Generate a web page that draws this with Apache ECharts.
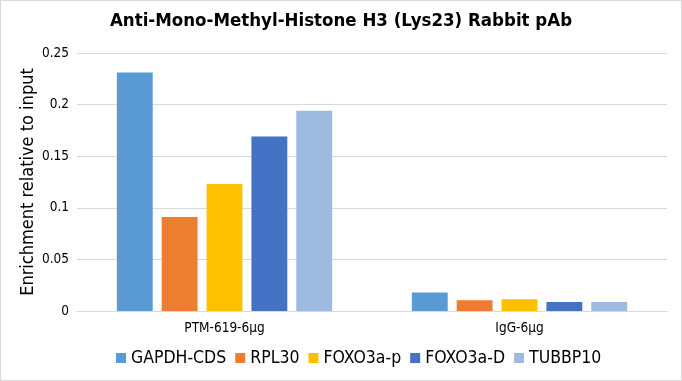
<!DOCTYPE html>
<html><head><meta charset="utf-8">
<script src="https://cdn.jsdelivr.net/npm/echarts@6/dist/echarts.min.js"></script>
<style>html,body{margin:0;padding:0;background:#fff}#c{width:682px;height:381px;box-sizing:border-box;border:1px solid #d9d9d9}</style>
</head><body><div id="c"></div>
<script>
const categories = ['PTM-619-6μg', 'IgG-6μg'];
const seriesNames = ['GAPDH-CDS', 'RPL30', 'FOXO3a-p', 'FOXO3a-D', 'TUBBP10'];
const gapdh = [0.231, 0.018];
const rpl30 = [0.091, 0.0105];
const foxo3ap = [0.123, 0.0115];
const foxo3aD = [0.169, 0.0088];
const tubbp10 = [0.194, 0.0088];
const colors = ['#5B9BD5', '#ED7D31', '#FFC000', '#4472C4', '#9DBBE1'];
const values = [gapdh, rpl30, foxo3ap, foxo3aD, tubbp10];
const font = "'DejaVu Sans Condensed', 'DejaVu Sans', sans-serif";
const chart = echarts.init(document.getElementById('c'));
chart.setOption({
  animation: false,
  title: { text: 'Anti-Mono-Methyl-Histone H3 (Lys23) Rabbit pAb', left: 'center', top: 6,
    textStyle: { fontFamily: font, fontSize: 18.5, fontWeight: 'bold', color: '#000' } },
  legend: { bottom: 8, left: 110, itemWidth: 10, itemHeight: 10, itemGap: 9, icon: 'rect',
    textStyle: { fontFamily: font, fontSize: 17.5, color: '#000' } },
  grid: { left: 76, right: 14, top: 52, bottom: 69 },
  xAxis: { type: 'category', data: categories,
    axisLine: { lineStyle: { color: '#d9d9d9' } }, axisTick: { show: false },
    axisLabel: { fontFamily: font, fontSize: 13.5, color: '#000', margin: 10 } },
  yAxis: { type: 'value', min: 0, max: 0.25, interval: 0.05,
    name: 'Enrichment relative to input', nameLocation: 'middle', nameGap: 40, nameMoveOverlap: false,
    nameTextStyle: { fontFamily: font, fontSize: 18, color: '#000' },
    axisLabel: { fontFamily: font, fontSize: 13.5, color: '#000', margin: 8 },
    splitLine: { lineStyle: { color: '#d9d9d9' } } },
  series: seriesNames.map((n, i) => ({ name: n, type: 'bar', data: values[i],
    itemStyle: { color: colors[i] }, barGap: '25%', barCategoryGap: '27%' }))
});
</script></body></html>
